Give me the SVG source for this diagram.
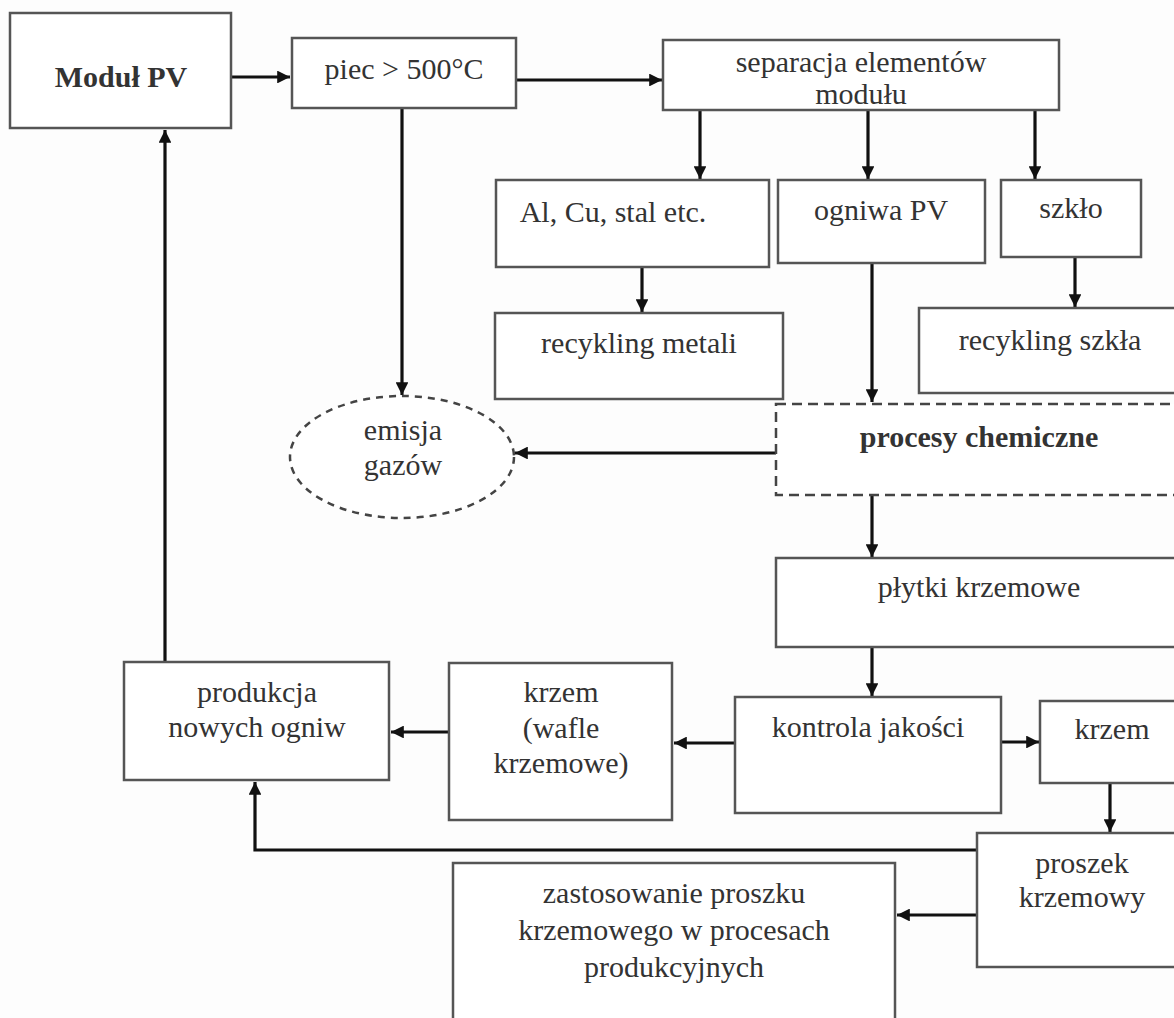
<svg xmlns="http://www.w3.org/2000/svg" width="1174" height="1018" viewBox="0 0 1174 1018">
<defs>
<style>
.b{fill:#fff;stroke:#555;stroke-width:2.5}
.d{fill:#fff;stroke:#444;stroke-width:2.5;stroke-dasharray:10 6}
.e{fill:#fff;stroke:#444;stroke-width:2.5;stroke-dasharray:7 6}
.t{font-family:"Liberation Serif","Times New Roman",serif;font-size:30px;fill:#333;text-anchor:middle}
.bold{font-weight:bold}
.c{fill:none;stroke:#111;stroke-width:3.2}
</style>
<marker id="a" viewBox="0 0 10 10" refX="10" refY="5" markerWidth="4" markerHeight="4" orient="auto" markerUnits="strokeWidth">
<path d="M0,0 L10,5 L0,10 z" fill="#111"/>
</marker>
</defs>
<rect width="1174" height="1018" fill="#fdfdfd"/>

<g id="connectors">
<path class="c" d="M231,77 H290" marker-end="url(#a)"/>
<path class="c" d="M516,80 H662" marker-end="url(#a)"/>
<path class="c" d="M700,110 V179" marker-end="url(#a)"/>
<path class="c" d="M868,110 V179" marker-end="url(#a)"/>
<path class="c" d="M1035,110 V179" marker-end="url(#a)"/>
<path class="c" d="M642,267 V312" marker-end="url(#a)"/>
<path class="c" d="M1075,257 V307" marker-end="url(#a)"/>
<path class="c" d="M402,108 V395" marker-end="url(#a)"/>
<path class="c" d="M872,263 V402" marker-end="url(#a)"/>
<path class="c" d="M776,453 H515" marker-end="url(#a)"/>
<path class="c" d="M872,495 V557" marker-end="url(#a)"/>
<path class="c" d="M872,647 V696" marker-end="url(#a)"/>
<path class="c" d="M735,743 H674" marker-end="url(#a)"/>
<path class="c" d="M449,732 H391" marker-end="url(#a)"/>
<path class="c" d="M165,662 V130" marker-end="url(#a)"/>
<path class="c" d="M1001,742 H1039" marker-end="url(#a)"/>
<path class="c" d="M1110,783 V832" marker-end="url(#a)"/>
<path class="c" d="M977,850 H255 V782" marker-end="url(#a)"/>
<path class="c" d="M977,915 H897" marker-end="url(#a)"/>
</g>

<g id="modul"><rect class="b" x="10" y="13" width="221" height="115"/><text class="t bold" x="121" y="87">Moduł PV</text></g>
<g id="piec"><rect class="b" x="292" y="38" width="224" height="70"/><text class="t" x="404" y="79">piec &gt; 500°C</text></g>
<g id="separacja"><rect class="b" x="663" y="40" width="396" height="70"/><text class="t" x="861" y="72">separacja elementów</text><text class="t" x="861" y="104">modułu</text></g>
<g id="metale"><rect class="b" x="496" y="180" width="273" height="87"/><text class="t" x="613" y="222">Al, Cu, stal etc.</text></g>
<g id="ogniwa"><rect class="b" x="778" y="180" width="207" height="83"/><text class="t" x="881" y="220">ogniwa PV</text></g>
<g id="szklo"><rect class="b" x="1001" y="180" width="140" height="77"/><text class="t" x="1071" y="218">szkło</text></g>
<g id="recykling-metali"><rect class="b" x="495" y="313" width="288" height="86"/><text class="t" x="639" y="353">recykling metali</text></g>
<g id="recykling-szkla"><rect class="b" x="919" y="308" width="264" height="85"/><text class="t" x="1050" y="350">recykling szkła</text></g>
<g id="emisja"><ellipse class="e" cx="402" cy="457" rx="112" ry="61"/><text class="t" x="403" y="440">emisja</text><text class="t" x="403" y="475">gazów</text></g>
<g id="procesy"><rect class="d" x="776" y="404" width="406" height="91"/><text class="t bold" x="979" y="447">procesy chemiczne</text></g>
<g id="plytki"><rect class="b" x="776" y="558" width="406" height="89"/><text class="t" x="979" y="597">płytki krzemowe</text></g>
<g id="kontrola"><rect class="b" x="735" y="697" width="266" height="116"/><text class="t" x="868" y="737">kontrola jakości</text></g>
<g id="krzem-wafle"><rect class="b" x="449" y="663" width="223" height="157"/><text class="t" x="561" y="702">krzem</text><text class="t" x="561" y="738">(wafle</text><text class="t" x="561" y="773">krzemowe)</text></g>
<g id="produkcja"><rect class="b" x="124" y="662" width="265" height="118"/><text class="t" x="257" y="702">produkcja</text><text class="t" x="257" y="737">nowych ogniw</text></g>
<g id="krzem"><rect class="b" x="1040" y="701" width="144" height="82"/><text class="t" x="1112" y="739">krzem</text></g>
<g id="proszek"><rect class="b" x="977" y="833" width="210" height="134"/><text class="t" x="1082" y="873">proszek</text><text class="t" x="1082" y="907">krzemowy</text></g>
<g id="zastosowanie"><rect class="b" x="453" y="863" width="442" height="170"/><text class="t" x="674" y="903">zastosowanie proszku</text><text class="t" x="674" y="940">krzemowego w procesach</text><text class="t" x="674" y="977">produkcyjnych</text></g>
</svg>
